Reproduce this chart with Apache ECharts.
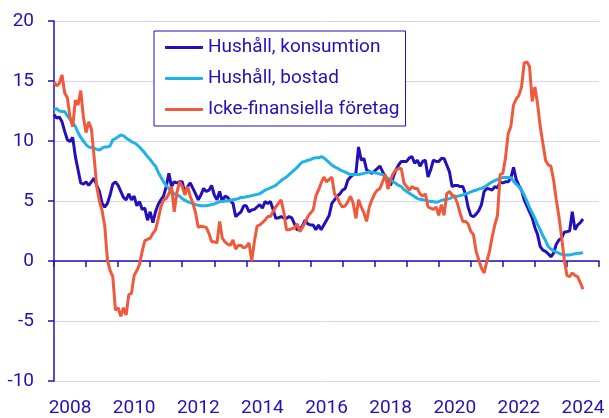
<!DOCTYPE html>
<html><head><meta charset="utf-8">
<script src="https://cdn.jsdelivr.net/npm/echarts@6/dist/echarts.min.js"></script>
<style>html,body{margin:0;padding:0;background:#fff}#c{width:609px;height:418px}</style>
</head><body><div id="c"></div>
<script>
// Year categories (labels centred in each year interval, every second one shown)
const years = ['2008','2009','2010','2011','2012','2013','2014','2015','2016','2017','2018','2019','2020','2021','2022','2023','2024'];
const startYear = 2008; // monthly data, first month = Jan 2008
const seriesNames = ['Hushåll, konsumtion', 'Hushåll, bostad', 'Icke-finansiella företag'];

const konsumtion = [
12.2,11.9,12.0,11.6,10.8,10.1,9.95,10.3,8.7,7.6,
6.5,6.4,6.6,6.3,6.6,6.9,6.3,5.8,4.8,4.5,
4.8,5.5,6.4,6.6,6.3,5.8,5.3,5.1,5.6,5.1,
5.4,4.6,4.95,4.3,4.4,3.4,4.1,3.2,4.1,4.7,
5.1,5.4,6.2,7.3,6.2,6.6,6.5,6.6,6.6,5.6,
6.2,6.5,6.05,5.6,5.1,5.5,6.05,5.8,5.9,6.3,
5.5,5.1,5.8,4.95,5.4,5.3,5.0,4.8,3.7,3.9,
4.1,4.6,4.6,4.1,4.25,4.3,4.5,4.7,4.4,4.95,
4.8,4.95,4.3,3.55,3.6,3.7,3.6,3.55,3.7,3.6,
3.1,2.6,2.7,2.9,3.4,3.1,3.0,3.0,2.6,3.0,
2.6,3.0,3.4,3.8,4.8,5.1,5.4,5.6,5.9,6.05,
6.75,7.0,7.2,7.3,9.5,8.4,8.55,7.6,7.45,7.3,
7.5,7.7,7.9,7.45,7.0,6.7,6.3,7.0,7.6,8.0,
8.3,8.3,8.3,8.6,8.7,8.15,8.4,7.9,8.3,8.4,
7.0,7.6,8.4,8.3,8.3,8.55,8.55,8.0,7.45,6.2,
6.3,6.3,6.2,6.2,5.6,4.5,3.8,3.7,3.9,4.2,
4.7,5.8,6.05,6.0,5.9,6.2,6.1,6.6,6.5,6.6,
6.6,6.9,7.8,6.8,6.3,5.9,5.1,4.6,4.1,3.6,
2.8,2.2,1.2,0.9,0.8,0.6,0.35,0.65,1.4,1.75,
1.9,2.4,2.45,2.5,4.1,2.6,3.0,3.2,3.5
];

const bostad = [
12.6,12.7,12.5,12.45,12.45,12.1,11.8,11.5,11.2,10.7,
10.3,10.0,9.7,9.5,9.45,9.4,9.3,9.25,9.4,9.5,
9.5,9.6,10.1,10.2,10.35,10.5,10.45,10.25,10.1,9.95,
9.85,9.7,9.5,9.25,9.0,8.7,8.45,8.15,7.9,7.4,
7.0,6.6,6.3,6.05,5.8,5.6,5.5,5.4,5.2,5.05,
4.95,4.85,4.8,4.7,4.65,4.6,4.6,4.6,4.65,4.7,
4.75,4.85,4.95,4.95,5.0,5.0,5.05,5.1,5.15,5.2,
5.3,5.3,5.35,5.4,5.45,5.5,5.55,5.6,5.75,5.9,
6.0,6.1,6.2,6.3,6.5,6.7,6.85,7.0,7.2,7.4,
7.6,7.8,8.05,8.25,8.3,8.4,8.45,8.55,8.6,8.6,
8.7,8.6,8.4,8.2,8.0,7.85,7.75,7.6,7.5,7.4,
7.3,7.2,7.2,7.2,7.2,7.25,7.3,7.35,7.45,7.4,
7.35,7.3,7.25,7.2,7.05,6.9,6.75,6.6,6.45,6.3,
6.2,5.95,5.8,5.65,5.5,5.35,5.2,5.15,5.1,5.05,
5.0,4.95,4.95,4.9,4.95,5.05,5.1,5.15,5.2,5.3,
5.35,5.4,5.45,5.5,5.6,5.65,5.75,5.85,5.9,6.0,
6.05,6.15,6.3,6.45,6.6,6.7,6.8,6.9,6.95,6.95,
6.95,6.95,6.65,6.4,6.2,5.9,5.5,5.0,4.45,4.0,
3.55,3.05,2.6,2.1,1.7,1.2,1.0,0.85,0.75,0.65,
0.55,0.5,0.5,0.5,0.55,0.6,0.65,0.65,0.7
];

const foretag = [
14.9,14.6,14.8,15.5,14.0,13.6,12.0,11.2,13.4,13.0,
14.2,12.0,10.7,11.6,11.0,8.7,6.2,5.0,4.2,2.9,
0.1,-0.8,-1.3,-4.1,-3.9,-4.6,-3.9,-4.5,-2.8,-2.7,
-1.2,-0.8,-0.3,0.8,1.7,1.8,1.9,2.3,2.6,3.5,
4.5,5.1,5.2,5.6,6.2,4.1,5.7,6.6,6.2,5.5,
6.2,5.4,4.8,4.0,2.8,2.9,2.85,2.8,2.3,1.6,
1.6,1.5,3.3,1.9,1.6,1.4,1.3,1.75,1.0,1.3,
1.3,1.1,1.2,1.5,0.0,1.6,2.9,3.0,3.2,3.4,
3.7,3.7,4.1,4.5,4.8,5.1,4.1,2.6,2.6,2.7,
2.75,3.1,2.45,2.8,3.2,3.7,4.0,4.25,5.4,5.9,
6.5,7.0,6.6,6.8,7.0,5.6,5.3,4.8,4.5,4.6,
4.95,5.4,4.8,3.55,5.1,4.5,4.0,3.3,4.5,5.1,
5.6,5.9,6.05,6.6,7.2,6.0,6.8,7.3,7.6,7.7,
7.7,6.5,6.2,5.9,6.2,6.05,6.05,5.6,5.4,5.6,
4.5,4.4,4.3,4.5,3.8,4.7,3.8,5.6,5.8,5.5,
5.4,4.8,4.0,3.3,3.3,3.1,2.45,2.2,0.8,0.1,
-0.6,-1.0,-0.05,0.8,2.0,3.0,3.8,7.2,7.3,8.6,
10.6,11.2,13.0,13.5,13.8,14.5,16.5,16.6,16.2,13.3,
14.5,13.1,11.2,9.8,8.4,8.0,7.9,6.75,5.1,3.7,
2.0,0.1,-1.2,-1.3,-1.0,-1.2,-1.3,-1.8,-2.35
];

const C = '#2211B8';
const colors = ['#2211B8', '#1EB2E6', '#F05A3C'];
const toPairs = arr => arr.map((v, i) => [startYear + i / 12, v]);
const values = [konsumtion, bostad, foretag];

const chart = echarts.init(document.getElementById('c'), null, {renderer: 'canvas'});
chart.setOption({
  animation: false,
  textStyle: {fontFamily: 'Roboto'},
  grid: {left: 54, right: 10, top: 21, bottom: 37, containLabel: false, outerBoundsMode: 'none'},
  legend: {
    orient: 'vertical', left: 154, top: 31,
    padding: [7, 6, 7, 11], itemGap: 12, itemWidth: 38, itemHeight: 3,
    icon: 'roundRect',
    borderColor: C, borderWidth: 1, backgroundColor: '#fff',
    textStyle: {color: C, fontSize: 19, fontFamily: 'Roboto'},
    data: seriesNames
  },
  xAxis: [
    {
      type: 'value', min: 2008, max: 2025, interval: 1,
      axisLine: {show: true, onZero: true, lineStyle: {color: C, width: 1.5}},
      axisTick: {show: true, length: 6, inside: false, lineStyle: {color: C, width: 1.5}},
      axisLabel: {show: false},
      splitLine: {show: false}
    },
    {
      type: 'category', data: years, position: 'bottom', boundaryGap: true,
      axisLine: {show: false}, axisTick: {show: false},
      axisLabel: {interval: 1, color: C, fontSize: 19, margin: 18, fontFamily: 'Roboto'},
      splitLine: {show: false}
    }
  ],
  yAxis: {
    type: 'value', min: -10, max: 20, interval: 5,
    axisLine: {show: true, lineStyle: {color: C, width: 1.5}},
    axisTick: {show: true, length: 6, inside: false, lineStyle: {color: C, width: 1.5}},
    axisLabel: {color: C, fontSize: 19, margin: 20, fontFamily: 'Roboto'},
    splitLine: {show: true, lineStyle: {color: '#D6D3F3', width: 1}}
  },
  series: seriesNames.map((name, k) => ({
    name: name, type: 'line', xAxisIndex: 0, symbol: 'none',
    data: toPairs(values[k]),
    lineStyle: {color: colors[k], width: 3},
    itemStyle: {color: colors[k]}
  }))
});
</script>
</body></html>
